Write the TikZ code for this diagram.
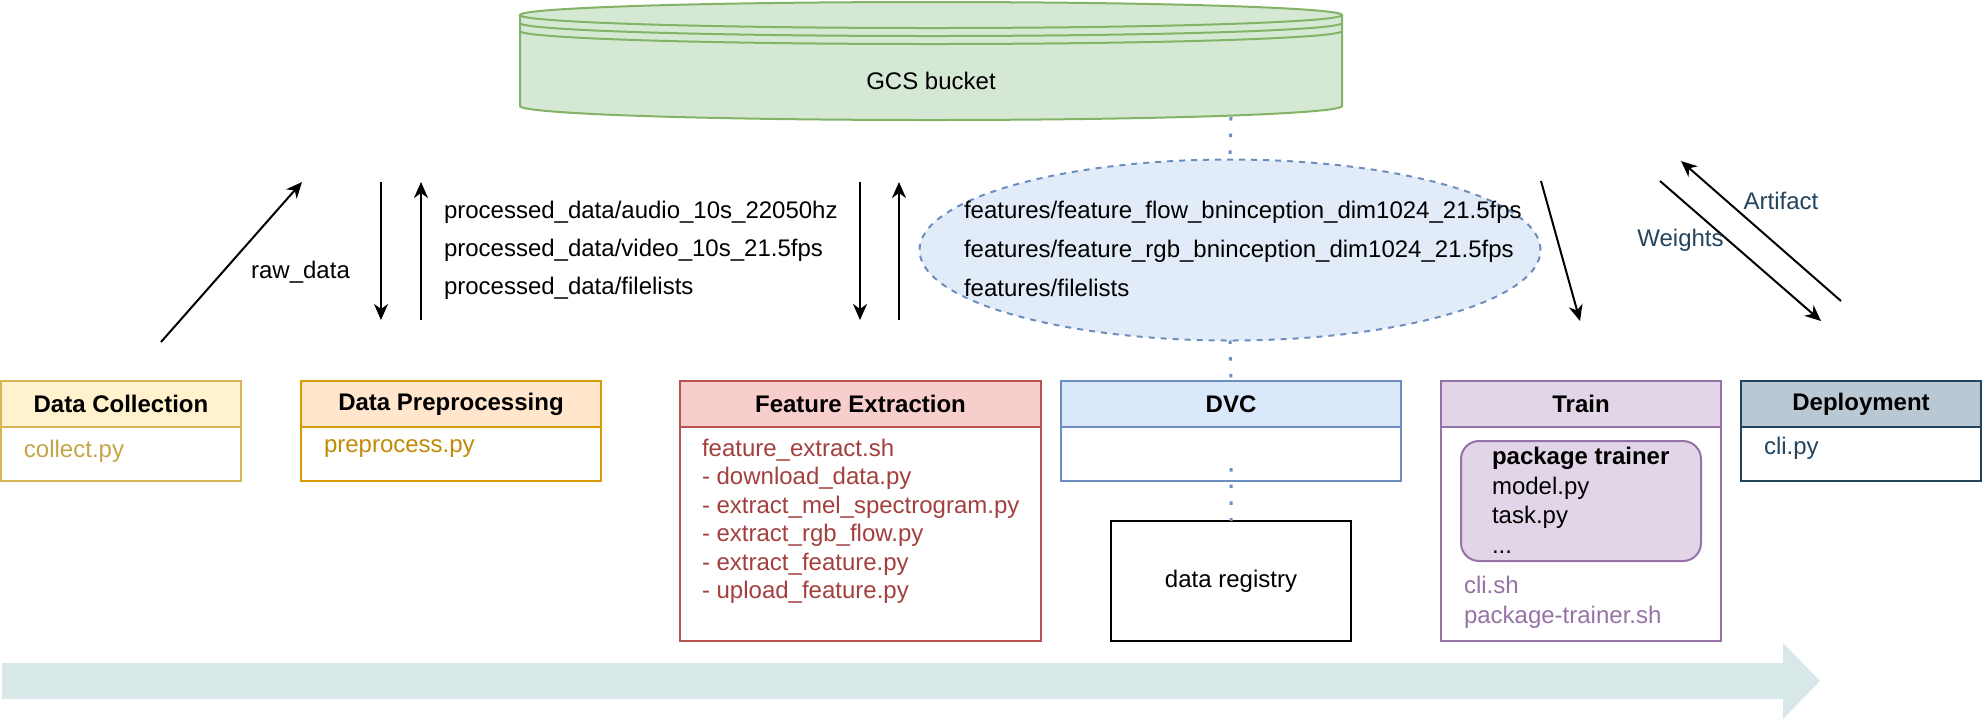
\documentclass[tikz,border=0pt]{standalone}
\usepackage{fontspec}
\setmainfont{Liberation Sans}
\usetikzlibrary{positioning,shapes.geometric,arrows.meta}
\definecolor{dcfill}{HTML}{FFF2CC}
\definecolor{dcline}{HTML}{D6B656}
\definecolor{dctext}{HTML}{C4A548}
\definecolor{dpfill}{HTML}{FFE6CC}
\definecolor{dpline}{HTML}{D79B00}
\definecolor{dptext}{HTML}{C28B06}
\definecolor{fefill}{HTML}{F8CECC}
\definecolor{feline}{HTML}{B85450}
\definecolor{fetext}{HTML}{A3403E}
\definecolor{dvcfill}{HTML}{DAE8FC}
\definecolor{dvcline}{HTML}{6C8EBF}
\definecolor{ellfill}{HTML}{E2ECF9}
\definecolor{trfill}{HTML}{E1D5E7}
\definecolor{trline}{HTML}{9673A6}
\definecolor{depfill}{HTML}{BAC8D3}
\definecolor{depline}{HTML}{23445D}
\definecolor{gcsfill}{HTML}{D5E8D4}
\definecolor{gcsline}{HTML}{82B366}
\definecolor{flowfill}{HTML}{D8E7E8}

\begin{document}
\begin{tikzpicture}[x=0.5pt, y=-0.5pt, >={Stealth[length=8pt,width=7pt,inset=2.5pt]}, line width=1pt,
                    every node/.style={font=\fontsize{12pt}{14.2pt}\selectfont, inner sep=0pt, outer sep=0pt},
                    head/.style={draw, minimum height=23pt, font=\fontsize{12pt}{14.2pt}\selectfont\bfseries},
                    body/.style={draw, fill=white, minimum height=27pt},
                    txt/.style={anchor=north west, align=left},
                    dotline/.style={draw=dvcline, line width=1.5pt, dash pattern=on 1.75pt off 6.6pt},]
                    \useasboundingbox (0,0) rectangle (1982,720);

                    % bucket
                    \fill[gcsfill] (520,15) -- (520,106) arc[start angle=180, end angle=0, x radius=411, y radius=14]
                        -- (1342,15) arc[start angle=0, end angle=-180, x radius=411, y radius=13] -- cycle;
                    \draw[gcsline] (520,15) -- (520,106) arc[start angle=180, end angle=0, x radius=411, y radius=14] -- (1342,15);
                    \draw[gcsline] (931,15) ellipse [x radius=411, y radius=13];
                    \draw[gcsline] (520,23) arc[start angle=180, end angle=0, x radius=411, y radius=13];
                    \draw[gcsline] (520,31) arc[start angle=180, end angle=0, x radius=411, y radius=13];
                    \node (15) at (931,81) {GCS bucket};
                    \coordinate (16) at (1231,117);

                    \node [ellipse, draw=dvcline, fill=ellfill, dash pattern=on 3pt off 3pt, minimum width=310.5pt, minimum height=90.5pt](17) at (1230,250) {};
                    \node [txt, font={\fontsize{12pt}{19.5pt}\selectfont}] at (964,201) {features/feature\_flow\_bninception\_dim1024\_21.5fps\\features/feature\_rgb\_bninception\_dim1024\_21.5fps\\features/filelists};
                    \node [txt, font={\fontsize{12pt}{19pt}\selectfont}] at (444,201) {processed\_data/audio\_10s\_22050hz\\processed\_data/video\_10s\_21.5fps\\processed\_data/filelists};

                    % stages
                    \node [head, fill=dcfill, draw=dcline, minimum width=120pt](1) at (121,404) {Data Collection};
                    \node [body, draw=dcline, minimum width=120pt](2) [below = 0pt of 1] {};
                    \node [txt, text=dctext] at (24,440) {collect.py};

                    \node [head, fill=dpfill, draw=dpline, minimum width=150pt](3) at (451,404) {Data Preprocessing};
                    \node [body, draw=dpline, minimum width=150pt](4) [below = 0pt of 3] {};
                    \node [txt, text=dptext] at (324,440) {preprocess.py};

                    \node [head, fill=fefill, draw=feline, minimum width=180.5pt](5) at (860.5,404) {Feature Extraction};
                    \node [body, draw=feline, minimum width=180.5pt, minimum height=107pt](6) [below = 0pt of 5] {};
                    \node [txt, text=fetext] at (702,439) {feature\_extract.sh\\- download\_data.py\\- extract\_mel\_spectrogram.py\\- extract\_rgb\_flow.py\\- extract\_feature.py\\- upload\_feature.py};

                    \node [head, fill=dvcfill, draw=dvcline, minimum width=170pt](7) at (1231,404) {DVC};
                    \node [body, draw=dvcline, minimum width=170pt](8) [below = 0pt of 7] {};
                    \coordinate (36) at (1231,468);
                    \node [draw, line width=1.3pt, minimum width=120pt, minimum height=60pt](9) at (1231,581) {data registry};

                    \node [head, fill=trfill, draw=trline, minimum width=140pt](10) at (1581,404) {Train};
                    \node [body, draw=trline, minimum width=140pt, minimum height=107pt](11) [below = 0pt of 10] {};
                    \node [draw=trline, fill=trfill, rounded corners=9pt, minimum width=120pt, minimum height=60pt](12) at (1581,501) {};
                    \node [txt, font={\fontsize{12pt}{14.8pt}\selectfont}] at (1492,447) {\textbf{package trainer}\\model.py\\task.py\\...};
                    \node [txt, text=trline, font={\fontsize{12pt}{15pt}\selectfont}] at (1464,576) {cli.sh\\package-trainer.sh};

                    \node [head, fill=depfill, draw=depline, minimum width=120pt](13) at (1861,404) {Deployment};
                    \node [body, draw=depline, minimum width=120pt](14) [below = 0pt of 13] {};
                    \node [txt, text=depline] at (1764,437) {cli.py};

                    % flow
                    \coordinate (20) at (161,342);   \coordinate (21) at (302,182);
                    \coordinate (22) at (381,182);   \coordinate (23) at (381,320);
                    \coordinate (24) at (421,320);   \coordinate (25) at (421,182);
                    \coordinate (26) at (860,182);   \coordinate (27) at (860,320);
                    \coordinate (28) at (899,320);   \coordinate (29) at (899,182);
                    \coordinate (30) at (1541,181);  \coordinate (31) at (1580,321);
                    \coordinate (32) at (1660,181);  \coordinate (33) at (1821,321);
                    \coordinate (34) at (1841,301);  \coordinate (35) at (1681,161);

                    \path[->]
                        (20) edge node[xshift=34.5pt, yshift=-5pt]{raw\_data}(21)
                        (22) edge (23)
                        (24) edge (25)
                        (26) edge (27)
                        (28) edge (29)
                        (30) edge (31)
                        (32) edge node[text=depline, xshift=-30pt, yshift=5.5pt]{Weights}(33)
                        (34) edge node[text=depline, xshift=10pt, yshift=15pt]{Artifact}(35)
                    ;

                    \path[dotline] (16) -- (17.north) (17.south) -- (7.north) (36) -- (9.north);

                    \fill[flowfill] (2,663) -- (1783,663) -- (1783,643) -- (1820,681) -- (1783,719) -- (1783,699) -- (2,699) -- cycle;

                \end{tikzpicture}
\end{document}
